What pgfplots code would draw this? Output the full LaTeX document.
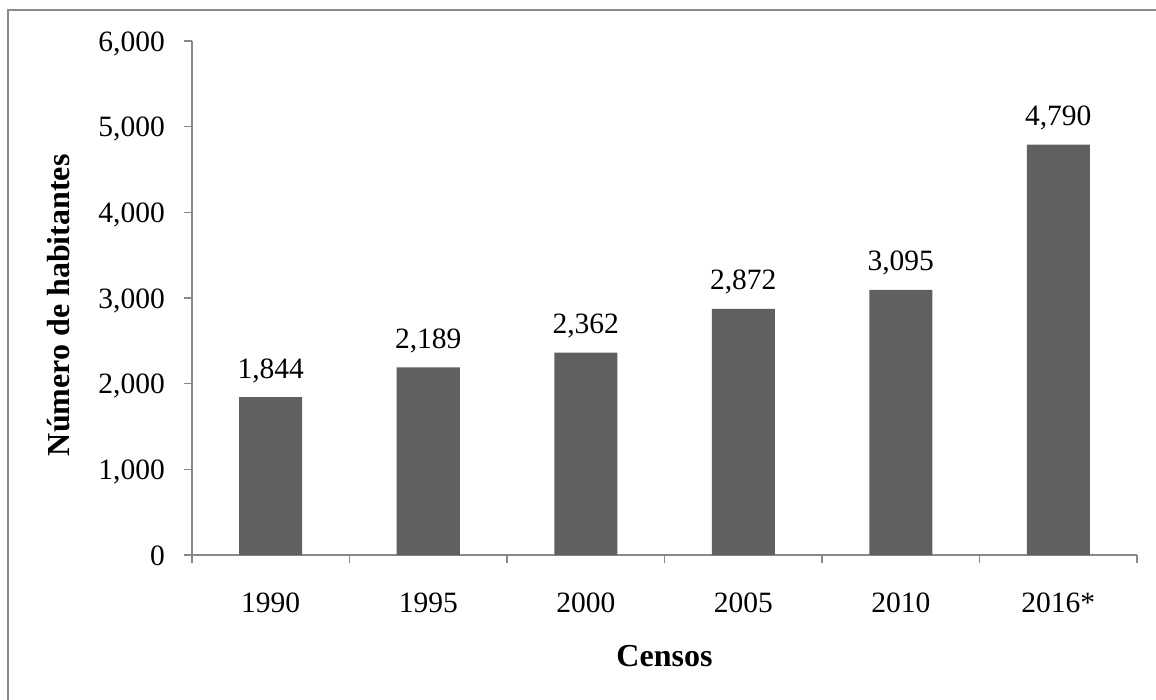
\documentclass[border=0pt]{standalone}
\usepackage{fontspec}
\setmainfont{Liberation Serif}
\usepackage{pgfplots}
\pgfplotsset{compat=1.18}
\definecolor{barc}{HTML}{606060}
\definecolor{axc}{HTML}{898989}
\newcommand{\tickfont}{\fontsize{29.5}{32}\selectfont}
\newcommand{\labfont}{\fontsize{32}{36}\selectfont\bfseries}
\begin{document}
\begin{tikzpicture}
\begin{axis}[
  at={(0pt,0pt)}, anchor=south west,
  scale only axis, width=945pt, height=514pt,
  xmin=-0.5, xmax=5.5, ymin=0, ymax=6000,
  axis lines*=left,
  axis line style={axc, line width=1.4pt},
  ybar, bar width=63pt,
  xtick={-0.5,0.5,1.5,2.5,3.5,4.5,5.5},
  x tick label as interval,
  xticklabels={1990,1995,2000,2005,2010,2016*},
  ytick={0,1000,2000,3000,4000,5000,6000},
  tick align=outside,
  major tick length=8pt,
  tick style={axc, line width=1.4pt},
  /pgf/number format/.cd, 1000 sep={,}, assume math mode=true, /pgfplots/.cd,
  xticklabel style={font=\tickfont, anchor=base, inner sep=0pt, yshift=-49pt},
  yticklabel style={font=\tickfont, anchor=base east, inner sep=0pt, xshift=-19pt, yshift=-10pt},
  nodes near coords,
  nodes near coords style={font=\tickfont, anchor=base, inner sep=0pt, yshift=19pt, text=black},
  xlabel={Censos},
  ylabel={Número de habitantes},
  xlabel style={font=\labfont, at={(axis description cs:0.5,0)}, anchor=base, yshift=-111pt},
  ylabel style={font=\labfont, at={(axis description cs:-0.1291,0.486)}, anchor=base},
]
\addplot[fill=barc, draw=none] coordinates {(0,1844) (1,2189) (2,2362) (3,2872) (4,3095) (5,4790)};
\end{axis}
\draw[axc, line width=2pt] (-184pt,-150pt) -- (-184pt,545pt) -- (970pt,545pt);
\pgfresetboundingbox
\useasboundingbox (-192pt,-144pt) rectangle (964pt,555pt);
\end{tikzpicture}
\end{document}
